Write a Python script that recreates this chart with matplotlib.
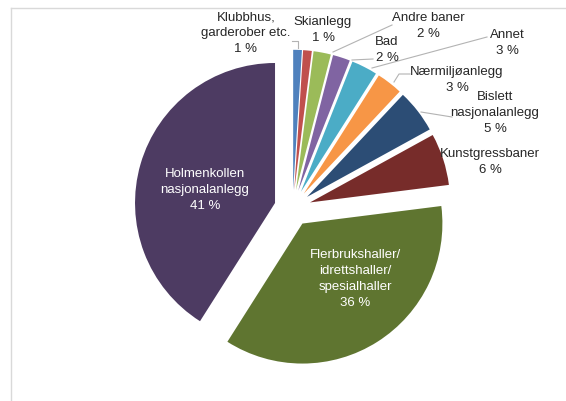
import matplotlib.pyplot as plt

# andel av investeringene per anleggstype (prosent)
labels = ['Klubbhus,\ngarderober etc.', 'Skianlegg', 'Andre baner', 'Bad', 'Annet',
          'Nærmiljøanlegg', 'Bislett\nnasjonalanlegg', 'Kunstgressbaner',
          'Flerbrukshaller/\nidrettshaller/\nspesialhaller', 'Holmenkollen\nnasjonalanlegg']
shares = [1, 1, 2, 2, 3, 3, 5, 6, 36, 41]
colors = ['#4F81BD', '#C0504D', '#9BBB59', '#8064A2', '#4BACC6',
          '#F79646', '#2C4D75', '#772C2A', '#5F7530', '#4D3B62']

W, H = 566, 401

# label centres in pixels (x, y from top)
label_pos = [(246, 33), (323, 30), (428, 26), (387, 50), (507, 43),
             (457, 80), (495, 113), (490, 162), (355, 279), (205, 190)]
inside = [False] * 8 + [True, True]

# leader lines in pixels (y from top), None where there is none
leaders = [
    [(292, 41), (298, 41), (298, 48)],
    None,
    [(392, 25), (333, 52)],
    [(352, 60), (373, 59)],
    [(487, 37), (372, 68)],
    [(410, 74), (399, 74), (394, 82)],
    [(452, 117), (421, 112)],
    None, None, None,
]

plt.rcParams['font.family'] = ['Liberation Sans', 'DejaVu Sans']

fig = plt.figure(figsize=(W / 100, H / 100), dpi=100)
ax = fig.add_axes([0, 0, 1, 1])

ax.pie(shares, colors=colors, startangle=90, counterclock=False,
       center=(292.6, H - 208.1), radius=140, explode=[18.3] * len(shares),
       frame=True, wedgeprops=dict(edgecolor='none', linewidth=0))

for text, value, (x, y), white in zip(labels, shares, label_pos, inside):
    ax.text(x, H - y, f'{text}\n{value} %', ha='center', va='center',
            fontsize=9.5, linespacing=1.42,
            color='white' if white else '#262626')

for line in leaders:
    if line is None:
        continue
    xs = [p[0] for p in line]
    ys = [H - p[1] for p in line]
    ax.plot(xs, ys, color='#B3B3B3', lw=0.8)

# chart area border
ax.plot([11, W], [H - 8, H - 8], color='#D9D9D9', lw=1)
ax.plot([11, 11], [H - 8, 0], color='#D9D9D9', lw=1)

ax.set_xlim(0, W)
ax.set_ylim(0, H)
ax.set_aspect('auto')
ax.axis('off')

fig.savefig('out.png', dpi=100, facecolor='white')
